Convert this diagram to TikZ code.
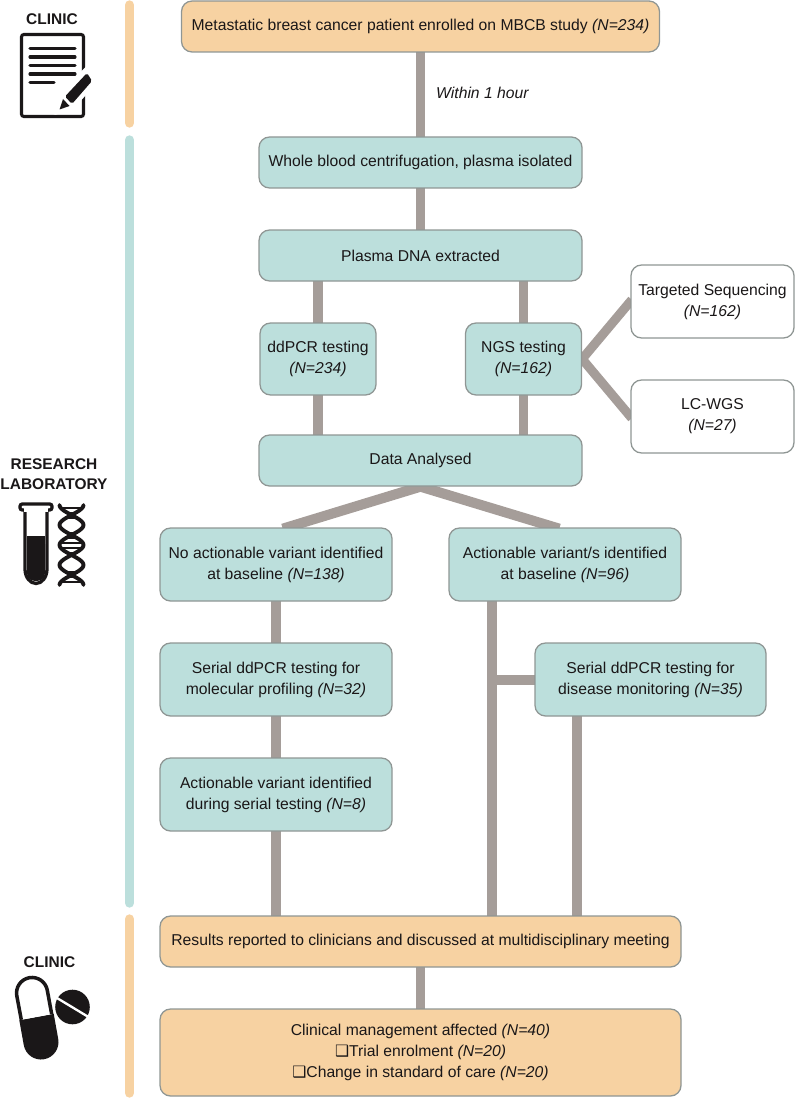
\documentclass[tikz,border=0pt]{standalone}
\usepackage{fontspec}
\setmainfont{Liberation Sans}
\newfontfamily\symfont{DejaVu Sans}
\usetikzlibrary{backgrounds,calc}
\definecolor{labteal}{HTML}{BCDFDC}
\definecolor{clinicorange}{HTML}{F7D2A2}
\definecolor{linkgrey}{HTML}{A59D99}
\definecolor{edgegrey}{HTML}{8F9694}
\definecolor{inkblack}{HTML}{1A1718}
\newcommand{\nval}[1]{\textit{(N=#1)}}
\newcommand{\chk}{{\symfont ❑}}
\tikzset{
  box/.style 2 args={draw=edgegrey, line width=1.1pt, rounded corners=9pt, align=center,
    minimum width=#1*0.03cm, minimum height=#2*0.03cm, inner sep=0pt,
    font=\fontsize{13.4}{18}\selectfont, text=inkblack},
  labbox/.style={fill=labteal},
  clinicbox/.style={fill=clinicorange},
  plainbox/.style={fill=white},
  link/.style={draw=linkgrey, line width=7.8pt, shorten <=-2pt, shorten >=-2pt},
  sidebar/.style={line width=8pt, line cap=round},
  sidehead/.style={font=\bfseries\fontsize{13.2}{17}\selectfont, text=inkblack, align=center, inner sep=0pt}
}
\begin{document}
\begin{tikzpicture}[x=0.03cm, y=-0.03cm]
  \useasboundingbox (0,0) rectangle (795,1100);

  % side bars
  \draw[sidebar, clinicorange] (129.5,5) -- (129.5,123);
  \draw[sidebar, labteal] (129.5,140) -- (129.5,903);
  \draw[sidebar, clinicorange] (129.5,919) -- (129.5,1093);

  % boxes
  \node[box={478}{51}, clinicbox] (enrol) at (420.5,26.5) {Metastatic breast cancer patient enrolled on MBCB study \nval{234}};
  \node[box={323}{51}, labbox] (blood) at (420.5,162.5) {Whole blood centrifugation, plasma isolated};
  \node[box={323}{51}, labbox] (dna) at (420.5,255.5) {Plasma DNA extracted};
  \node[box={116}{72}, labbox] (ddpcr) at (318,359) {ddPCR testing\\\nval{234}};
  \node[box={116}{72}, labbox] (ngs) at (523.5,359) {NGS testing\\\nval{162}};
  \node[box={163}{73}, plainbox] (targeted) at (712.5,301.5) {Targeted Sequencing\\\nval{162}};
  \node[box={163}{73}, plainbox] (lcwgs) at (712.5,416.5) {LC-WGS\\\nval{27}};
  \node[box={323}{51}, labbox] (data) at (420.5,460.5) {Data Analysed};
  \node[box={232}{73}, labbox] (noact) at (276,564.5) {No actionable variant identified\\at baseline \nval{138}};
  \node[box={232}{73}, labbox] (act) at (565,564.5) {Actionable variant/s identified\\at baseline \nval{96}};
  \node[box={232}{73}, labbox] (sermol) at (276,679.5) {Serial ddPCR testing for\\molecular profiling \nval{32}};
  \node[box={231}{73}, labbox] (serdis) at (650.5,679.5) {Serial ddPCR testing for\\disease monitoring \nval{35}};
  \node[box={232}{73}, labbox] (during) at (276,794.5) {Actionable variant identified\\during serial testing \nval{8}};
  \node[box={521}{51}, clinicbox] (results) at (420.5,941.5) {Results reported to clinicians and discussed at multidisciplinary meeting};
  \node[box={521}{87}, clinicbox] (mgmt) at (420.5,1052.5) {Clinical management affected \nval{40}\\\chk Trial enrolment \nval{20}\\\chk Change in standard of care \nval{20}};
  \node[anchor=west, inner sep=0pt, font=\itshape\fontsize{13.4}{15}\selectfont, text=inkblack] (onehour) at (436,93) {Within 1 hour};

  % junctions that sit off the box centres
  \coordinate (noactin) at (285,528);
  \coordinate (actin) at (557,528);
  \coordinate (actdrop) at (492,601);
  \coordinate (actjoin) at (492,680);
  \coordinate (serdrop) at (577,716);

  % connectors
  \begin{pgfonlayer}{background}
    \draw[link] (enrol) -- (blood);
    \draw[link] (blood) -- (dna);
    \draw[link] (ddpcr.north) -- (ddpcr.north |- dna.south);
    \draw[link] (ngs.north) -- (ngs.north |- dna.south);
    \draw[link] (ddpcr.south) -- (ddpcr.south |- data.north);
    \draw[link] (ngs.south) -- (ngs.south |- data.north);
    \draw[link] (ngs.east) -- (targeted.west);
    \draw[link] (ngs.east) -- (lcwgs.west);
    \draw[link, line width=8.6pt] (data.south) -- (noactin);
    \draw[link, line width=8.6pt] (data.south) -- (actin);
    \draw[link] (noact) -- (sermol);
    \draw[link] (sermol) -- (during);
    \draw[link] (during.south) -- (during.south |- results.north);
    \draw[link] (actdrop) -- (actdrop |- results.north);
    \draw[link] (actjoin) -- (actjoin -| serdis.west);
    \draw[link] (serdrop) -- (serdrop |- results.north);
    \draw[link] (results) -- (mgmt);
  \end{pgfonlayer}

  % side headings
  \node[sidehead] (clinictop) at (52,19) {CLINIC};
  \node[sidehead] (lab) at (54,474) {RESEARCH\\LABORATORY};
  \node[sidehead] (clinicend) at (49.5,962) {CLINIC};

  % clipboard with pencil
  \draw[inkblack, line width=2.6pt, rounded corners=2pt] (21.5,34.5) rectangle (83.5,116.5);
  \foreach \y/\xend in {48.5/75, 57/75, 65.5/75, 74/75, 82.5/54}
    \draw[inkblack, line width=2.6pt, line cap=round] (30,\y) -- (\xend,\y);
  \fill[white, draw=white, line width=3pt, line join=round] (55,113) -- (61,95) -- (87,68) -- (97,80) -- (72,108) -- cycle;
  \fill[inkblack] (59.5,109.5) -- (63,99) -- (69.5,106) -- cycle;
  \fill[inkblack, rounded corners=1.5pt] (65,96.5) -- (72,104) -- (92,81) -- (87,73) -- cycle;

  % test tube
  \draw[inkblack, line width=2.8pt, line join=round, line cap=round]
    (25,510) -- (25,569) arc[start angle=180, end angle=0, x radius=11, y radius=14.5] -- (47,510);
  \draw[inkblack, line width=2.8pt, rounded corners=2pt, fill=white] (20,504) rectangle (52,510);
  \fill[white] (24,507) rectangle (48,512);
  \fill[inkblack, rounded corners=7pt] (27,536) -- (45,536) -- (45,581) -- (27,581) -- cycle;
  \fill[inkblack] (27,536) rectangle (45,560);

  % DNA strands
  \foreach \phase in {0,180}
    \draw[inkblack, line width=3.3pt, line cap=round] plot[domain=0:720, samples=61, smooth]
      ({71.5+12*cos(\x+\phase)}, {505+\x/9});
  \foreach \y in {508,513,518,533,538,543,548,553,572,577,582} {
    \pgfmathsetmacro{\hw}{max(abs(12*cos((\y-505)*9)),2)}
    \draw[inkblack, line width=1.1pt] ({71.5-\hw},\y) -- ({71.5+\hw},\y);
  }

  % capsule and tablet
  \fill[inkblack] (19.3,1020.2) -- (23.8,1045.2) arc[start angle=169.5, end angle=-10.5, radius=17.5] -- (53.7,1013.8) -- cycle;
  \draw[inkblack, line width=3pt, fill=white] (21.3,1019.8) -- (16.8,995.8) arc[start angle=169.5, end angle=349.5, radius=15.5] -- (51.7,1014.2);
  \fill[inkblack] (72.5,1007) circle[radius=17.3];
  \draw[white, line width=2pt] (57,998) -- (88.5,1017);
\end{tikzpicture}
\end{document}
